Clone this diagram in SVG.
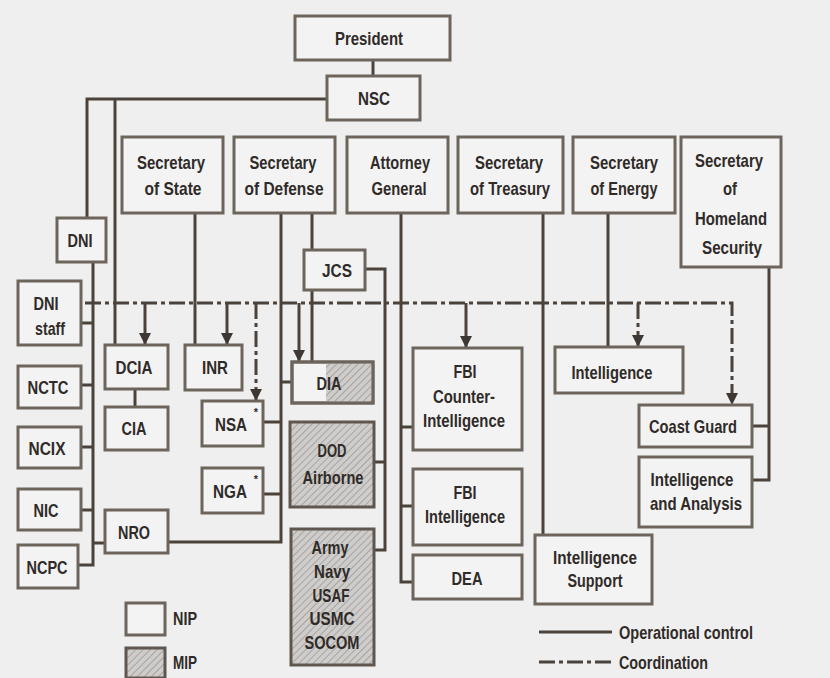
<svg xmlns="http://www.w3.org/2000/svg" width="830" height="678" viewBox="0 0 830 678">
<style>
.bx{fill:#f4f3f3;stroke:#6d645c;stroke-width:3}
.hb{fill:url(#hatch);stroke:#5e564f;stroke-width:3}
.t{font-family:"Liberation Sans",Arial,sans-serif;font-weight:bold;font-size:19px;fill:#2f2b28;text-anchor:middle;dominant-baseline:central}
.tl{text-anchor:start}
.sm{font-size:11px}
.op{fill:none;stroke:#4a423b;stroke-width:3}
.co{fill:none;stroke:#4a423b;stroke-width:3;stroke-dasharray:16 4 4 4}
</style>
<defs>
<pattern id="hatch" width="5" height="5" patternUnits="userSpaceOnUse" patternTransform="rotate(45)">
<rect width="5" height="5" fill="#cfcdcb"/>
<line x1="0" y1="0" x2="0" y2="5" stroke="#9d9894" stroke-width="1.6"/>
</pattern>
<marker id="arr" markerUnits="userSpaceOnUse" markerWidth="12" markerHeight="14" viewBox="0 0 12 14" refX="12" refY="6" orient="auto">
<path d="M0,0 L12,6 L0,12 z" fill="#3f3832"/>
</marker>
</defs>
<rect width="830" height="678" fill="#efefef"/>

<g id="connectors">
<path class="op" d="M373,60 V76"/>
<path class="op" d="M327,99 H87 V218"/>
<path class="op" d="M115,99 V345"/>
<path class="op" d="M93,262 V565 H78"/>
<path class="op" d="M81,323 H93 M81,385 H93 M81,447 H93 M81,510 H93 M93,543 H105"/>
<path class="op" d="M135,389 V407"/>
<path class="op" d="M195,213 V345"/>
<path class="op" d="M281,213 V542 H168"/>
<path class="op" d="M281,382 H292 M263,422 H281 M263,494 H281"/>
<path class="op" d="M312,213 V250 M312,290 V362"/>
<path class="op" d="M365,269 H385 V550 H374 M374,462 H385"/>
<path class="op" d="M401,213 V582 H413 M401,427 H413 M401,506 H413"/>
<path class="op" d="M543,213 V535"/>
<path class="op" d="M608,213 V347"/>
<path class="op" d="M769,267 V480 H752 M752,426 H769"/>
<path class="co" d="M85,303 H732 V405" marker-end="url(#arr)"/>
<path class="op" d="M145,303 V345" marker-end="url(#arr)"/>
<path class="op" d="M227,303 V345" marker-end="url(#arr)"/>
<path class="co" d="M256,303 V401" marker-end="url(#arr)"/>
<path class="op" d="M299,303 V362" marker-end="url(#arr)"/>
<path class="op" d="M466,303 V348" marker-end="url(#arr)"/>
<path class="co" d="M638,303 V347" marker-end="url(#arr)"/>
</g>

<g id="president"><rect class="bx" x="295" y="16" width="155" height="44"/><text class="t" x="369" y="38" textLength="68" lengthAdjust="spacingAndGlyphs">President</text></g>
<g id="nsc"><rect class="bx" x="327" y="76" width="93" height="44"/><text class="t" x="374" y="98" textLength="32" lengthAdjust="spacingAndGlyphs">NSC</text></g>

<g id="sec-state"><rect class="bx" x="122" y="137" width="101" height="76"/><text class="t" x="171" y="162" textLength="68" lengthAdjust="spacingAndGlyphs">Secretary</text><text class="t" x="173" y="188" textLength="57" lengthAdjust="spacingAndGlyphs">of State</text></g>
<g id="sec-defense"><rect class="bx" x="234" y="137" width="101" height="76"/><text class="t" x="283" y="162" textLength="67" lengthAdjust="spacingAndGlyphs">Secretary</text><text class="t" x="284" y="188" textLength="79" lengthAdjust="spacingAndGlyphs">of Defense</text></g>
<g id="attorney-general"><rect class="bx" x="347" y="137" width="101" height="76"/><text class="t" x="400" y="162" textLength="60" lengthAdjust="spacingAndGlyphs">Attorney</text><text class="t" x="399" y="188" textLength="55" lengthAdjust="spacingAndGlyphs">General</text></g>
<g id="sec-treasury"><rect class="bx" x="458" y="137" width="105" height="76"/><text class="t" x="509" y="162" textLength="68" lengthAdjust="spacingAndGlyphs">Secretary</text><text class="t" x="510" y="188" textLength="80" lengthAdjust="spacingAndGlyphs">of Treasury</text></g>
<g id="sec-energy"><rect class="bx" x="573" y="137" width="102" height="76"/><text class="t" x="624" y="162" textLength="68" lengthAdjust="spacingAndGlyphs">Secretary</text><text class="t" x="624" y="188" textLength="67" lengthAdjust="spacingAndGlyphs">of Energy</text></g>
<g id="sec-homeland"><rect class="bx" x="681" y="137" width="100" height="130"/><text class="t" x="729" y="160" textLength="68" lengthAdjust="spacingAndGlyphs">Secretary</text><text class="t" x="730" y="188" textLength="14" lengthAdjust="spacingAndGlyphs">of</text><text class="t" x="731" y="218" textLength="72" lengthAdjust="spacingAndGlyphs">Homeland</text><text class="t" x="732" y="247" textLength="60" lengthAdjust="spacingAndGlyphs">Security</text></g>

<g id="dni"><rect class="bx" x="57" y="218" width="49" height="44"/><text class="t" x="80" y="240" textLength="25" lengthAdjust="spacingAndGlyphs">DNI</text></g>
<g id="dni-staff"><rect class="bx" x="18" y="281" width="63" height="64"/><text class="t" x="46" y="303" textLength="25" lengthAdjust="spacingAndGlyphs">DNI</text><text class="t" x="50" y="328" textLength="30" lengthAdjust="spacingAndGlyphs">staff</text></g>
<g id="nctc"><rect class="bx" x="18" y="366" width="63" height="42"/><text class="t" x="48" y="387" textLength="41" lengthAdjust="spacingAndGlyphs">NCTC</text></g>
<g id="ncix"><rect class="bx" x="18" y="427" width="63" height="41"/><text class="t" x="47" y="448" textLength="37" lengthAdjust="spacingAndGlyphs">NCIX</text></g>
<g id="nic"><rect class="bx" x="18" y="489" width="63" height="41"/><text class="t" x="46" y="510" textLength="25" lengthAdjust="spacingAndGlyphs">NIC</text></g>
<g id="ncpc"><rect class="bx" x="18" y="545" width="60" height="43"/><text class="t" x="47" y="567" textLength="41" lengthAdjust="spacingAndGlyphs">NCPC</text></g>

<g id="dcia"><rect class="bx" x="105" y="345" width="63" height="44"/><text class="t" x="134" y="367" textLength="37" lengthAdjust="spacingAndGlyphs">DCIA</text></g>
<g id="cia"><rect class="bx" x="105" y="407" width="63" height="43"/><text class="t" x="134" y="428" textLength="25" lengthAdjust="spacingAndGlyphs">CIA</text></g>
<g id="nro"><rect class="bx" x="105" y="510" width="63" height="43"/><text class="t" x="134" y="532" textLength="32" lengthAdjust="spacingAndGlyphs">NRO</text></g>
<g id="inr"><rect class="bx" x="185" y="345" width="57" height="45"/><text class="t" x="215" y="367" textLength="26" lengthAdjust="spacingAndGlyphs">INR</text></g>
<g id="nsa"><rect class="bx" x="202" y="401" width="61" height="45"/><text class="t" x="231" y="424" textLength="32" lengthAdjust="spacingAndGlyphs">NSA</text><text class="t sm" x="256" y="412">*</text></g>
<g id="nga"><rect class="bx" x="202" y="468" width="61" height="45"/><text class="t" x="230" y="491" textLength="34" lengthAdjust="spacingAndGlyphs">NGA</text><text class="t sm" x="256" y="479">*</text></g>

<g id="jcs"><rect class="bx" x="304" y="250" width="61" height="40"/><text class="t" x="337" y="270" textLength="30" lengthAdjust="spacingAndGlyphs">JCS</text></g>
<g id="dia"><rect class="bx" x="292" y="362" width="81" height="41"/><rect x="326" y="363.5" width="45.5" height="38" fill="url(#hatch)"/><rect x="292" y="362" width="81" height="41" fill="none" stroke="#6d645c" stroke-width="3"/><text class="t" x="329" y="383" textLength="25" lengthAdjust="spacingAndGlyphs">DIA</text></g>
<g id="dod-airborne"><rect class="hb" x="290" y="422" width="84" height="85"/><text class="t" x="332" y="450" textLength="29" lengthAdjust="spacingAndGlyphs">DOD</text><text class="t" x="333" y="477" textLength="61" lengthAdjust="spacingAndGlyphs">Airborne</text></g>
<g id="services"><rect class="hb" x="291" y="529" width="83" height="136"/><text class="t" x="330" y="547" textLength="37" lengthAdjust="spacingAndGlyphs">Army</text><text class="t" x="332" y="571" textLength="36" lengthAdjust="spacingAndGlyphs">Navy</text><text class="t" x="331" y="595" textLength="37" lengthAdjust="spacingAndGlyphs">USAF</text><text class="t" x="332" y="618" textLength="45" lengthAdjust="spacingAndGlyphs">USMC</text><text class="t" x="332" y="642" textLength="55" lengthAdjust="spacingAndGlyphs">SOCOM</text></g>

<g id="fbi-ci"><rect class="bx" x="413" y="348" width="109" height="102"/><text class="t" x="465" y="371" textLength="23" lengthAdjust="spacingAndGlyphs">FBI</text><text class="t" x="464" y="396" textLength="62" lengthAdjust="spacingAndGlyphs">Counter-</text><text class="t" x="464" y="420" textLength="82" lengthAdjust="spacingAndGlyphs">Intelligence</text></g>
<g id="fbi-intel"><rect class="bx" x="413" y="469" width="109" height="76"/><text class="t" x="465" y="492" textLength="23" lengthAdjust="spacingAndGlyphs">FBI</text><text class="t" x="465" y="516" textLength="80" lengthAdjust="spacingAndGlyphs">Intelligence</text></g>
<g id="dea"><rect class="bx" x="413" y="555" width="109" height="44"/><text class="t" x="467" y="578" textLength="31" lengthAdjust="spacingAndGlyphs">DEA</text></g>

<g id="intel-support"><rect class="bx" x="535" y="535" width="117" height="69"/><text class="t" x="595" y="557" textLength="84" lengthAdjust="spacingAndGlyphs">Intelligence</text><text class="t" x="595" y="580" textLength="55" lengthAdjust="spacingAndGlyphs">Support</text></g>
<g id="energy-intel"><rect class="bx" x="555" y="347" width="128" height="46"/><text class="t" x="612" y="372" textLength="81" lengthAdjust="spacingAndGlyphs">Intelligence</text></g>
<g id="coast-guard"><rect class="bx" x="639" y="405" width="113" height="42"/><text class="t" x="693" y="426" textLength="88" lengthAdjust="spacingAndGlyphs">Coast Guard</text></g>
<g id="intel-analysis"><rect class="bx" x="639" y="457" width="113" height="70"/><text class="t" x="692" y="479" textLength="83" lengthAdjust="spacingAndGlyphs">Intelligence</text><text class="t" x="696" y="503" textLength="92" lengthAdjust="spacingAndGlyphs">and Analysis</text></g>

<g id="legend">
<rect class="bx" x="126" y="603" width="39" height="32"/>
<text class="t tl" x="173" y="618" textLength="24" lengthAdjust="spacingAndGlyphs">NIP</text>
<rect class="hb" x="126" y="648" width="39" height="30"/>
<text class="t tl" x="173" y="662" textLength="24" lengthAdjust="spacingAndGlyphs">MIP</text>
<path class="op" d="M539,632 H612"/>
<text class="t tl" x="619" y="632" textLength="134" lengthAdjust="spacingAndGlyphs">Operational control</text>
<path class="co" d="M539,662 H612"/>
<text class="t tl" x="619" y="662" textLength="89" lengthAdjust="spacingAndGlyphs">Coordination</text>
</g>
</svg>
